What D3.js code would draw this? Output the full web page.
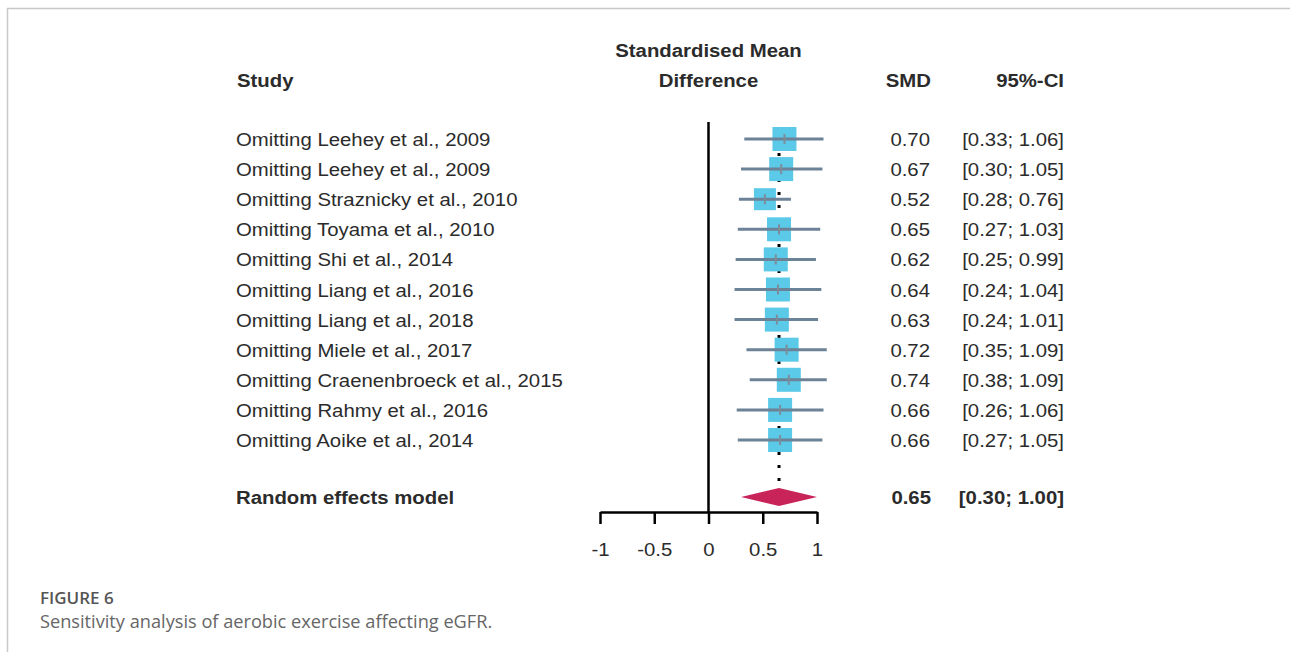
<!DOCTYPE html>
<html>
<head>
<meta charset="utf-8">
<script src="https://cdn.jsdelivr.net/npm/d3@7"></script>
<style>
  body { margin: 0; background: #fff; }
  svg { display: block; }
</style>
</head>
<body>
<div id="chart"></div>
<script>
// Data
var studies = [
  "Omitting Leehey et al., 2009",
  "Omitting Leehey et al., 2009",
  "Omitting Straznicky et al., 2010",
  "Omitting Toyama et al., 2010",
  "Omitting Shi et al., 2014",
  "Omitting Liang et al., 2016",
  "Omitting Liang et al., 2018",
  "Omitting Miele et al., 2017",
  "Omitting Craenenbroeck et al., 2015",
  "Omitting Rahmy et al., 2016",
  "Omitting Aoike et al., 2014"
];
var smd   = [0.70, 0.67, 0.52, 0.65, 0.62, 0.64, 0.63, 0.72, 0.74, 0.66, 0.66];
var lower = [0.33, 0.30, 0.28, 0.27, 0.25, 0.24, 0.24, 0.35, 0.38, 0.26, 0.27];
var upper = [1.06, 1.05, 0.76, 1.03, 0.99, 1.04, 1.01, 1.09, 1.09, 1.06, 1.05];
var boxSize = [24, 24, 22, 24, 24, 24, 24, 24, 24, 24, 24];

var pooled = { label: "Random effects model", est: 0.65, lo: 0.30, hi: 1.00 };

var tickValues = [-1, -0.5, 0, 0.5, 1];
var tickLabels = ["-1", "-0.5", "0", "0.5", "1"];

var W = 1290, H = 652;
var font = "'Liberation Sans', Arial, sans-serif";
var txt = "#2b2b2b";
var fs = 18.5, sx = 1.1; // the figure's text is a little stretched sideways

var svg = d3.select("#chart").append("svg")
  .attr("width", W).attr("height", H);

// frame lines
svg.append("line").attr("x1", 7).attr("x2", W).attr("y1", 8.5).attr("y2", 8.5)
  .style("stroke", "#c8c8c8").style("stroke-width", 1.5);
svg.append("line").attr("x1", 7.5).attr("x2", 7.5).attr("y1", 8).attr("y2", H)
  .style("stroke", "#c8c8c8").style("stroke-width", 1.5);

var x = d3.scaleLinear().domain([-1, 1]).range([600, 817]);
var y = d3.scalePoint().domain(d3.range(studies.length)).range([139, 440]);
var yPooled = 497;
var axisY = 512;

// stretched text helper
function label(parent, tx, ty, s, anchor, bold) {
  return parent.append("text")
    .attr("transform", "translate(" + tx + "," + ty + ") scale(" + sx + ",1)")
    .attr("text-anchor", anchor || "start")
    .style("font-family", font).style("font-size", fs + "px")
    .style("font-weight", bold ? "bold" : "normal")
    .style("fill", txt)
    .text(s);
}

// headers
var hdr = svg.append("g");
label(hdr, 237, 87, "Study", "start", true);
label(hdr, x(0), 57, "Standardised Mean", "middle", true);
label(hdr, x(0), 87, "Difference", "middle", true);
label(hdr, 931, 87, "SMD", "end", true);
label(hdr, 1064, 87, "95%-CI", "end", true);

// zero line
svg.append("line").attr("x1", x(0)).attr("x2", x(0)).attr("y1", 122).attr("y2", axisY)
  .style("stroke", "#000").style("stroke-width", 2.5);

// pooled estimate dotted line
svg.append("line").attr("x1", x(pooled.est)).attr("x2", x(pooled.est))
  .attr("y1", 127).attr("y2", yPooled - 8)
  .style("stroke", "#000").style("stroke-width", 3).style("stroke-dasharray", "3,10");

// study rows
var rows = svg.append("g");
studies.forEach(function (s, i) {
  var g = rows.append("g").attr("class", "row");
  label(g, 236, y(i) + 7, s, "start", false);

  g.append("rect")
    .attr("x", x(smd[i]) - boxSize[i] / 2)
    .attr("y", y(i) - boxSize[i] / 2)
    .attr("width", boxSize[i]).attr("height", boxSize[i])
    .style("fill", "#5bc9e8");

  g.append("line")
    .attr("x1", x(lower[i])).attr("x2", x(upper[i]))
    .attr("y1", y(i)).attr("y2", y(i))
    .style("stroke", "#6c8296").style("stroke-width", 3);

  g.append("line")
    .attr("x1", x(smd[i])).attr("x2", x(smd[i]))
    .attr("y1", y(i) - 5).attr("y2", y(i) + 5)
    .style("stroke", "#7d8c9a").style("stroke-width", 2);

  label(g, 930, y(i) + 7, smd[i].toFixed(2), "end", false);
  label(g, 1064, y(i) + 7, "[" + lower[i].toFixed(2) + "; " + upper[i].toFixed(2) + "]", "end", false);
});

// pooled row
var pr = svg.append("g");
label(pr, 236, yPooled + 7, pooled.label, "start", true);
label(pr, 931, yPooled + 7, pooled.est.toFixed(2), "end", true);
label(pr, 1064, yPooled + 7, "[" + pooled.lo.toFixed(2) + "; " + pooled.hi.toFixed(2) + "]", "end", true);

svg.append("path")
  .attr("d", "M" + x(pooled.lo) + "," + yPooled +
             "L" + x(pooled.est) + "," + (yPooled - 9) +
             "L" + x(pooled.hi) + "," + yPooled +
             "L" + x(pooled.est) + "," + (yPooled + 9) + "Z")
  .style("fill", "#c8245a");

// axis
var axis = d3.axisBottom(x).tickValues(tickValues).tickSize(12).tickSizeOuter(0)
  .tickPadding(19)
  .tickFormat(function (d, i) { return tickLabels[i]; });
var ag = svg.append("g").attr("transform", "translate(0," + axisY + ")").call(axis);
ag.select(".domain").style("stroke", "#000").style("stroke-width", 2.5);
ag.selectAll(".tick line").style("stroke", "#000").style("stroke-width", 2.5);
ag.selectAll(".tick text")
  .attr("transform", "scale(" + sx + ",1)")
  .style("font-family", font).style("font-size", fs + "px").style("fill", txt);

// caption
var cap = svg.append("g").style("font-family", "'Open Sans', sans-serif");
cap.append("text").attr("x", 40).attr("y", 604).style("font-size", "17px")
  .style("fill", "#555").style("font-weight", "600").text("FIGURE 6");
cap.append("text").attr("x", 40).attr("y", 628).style("font-size", "18.2px")
  .style("fill", "#666").text("Sensitivity analysis of aerobic exercise affecting eGFR.");
</script>
</body>
</html>
